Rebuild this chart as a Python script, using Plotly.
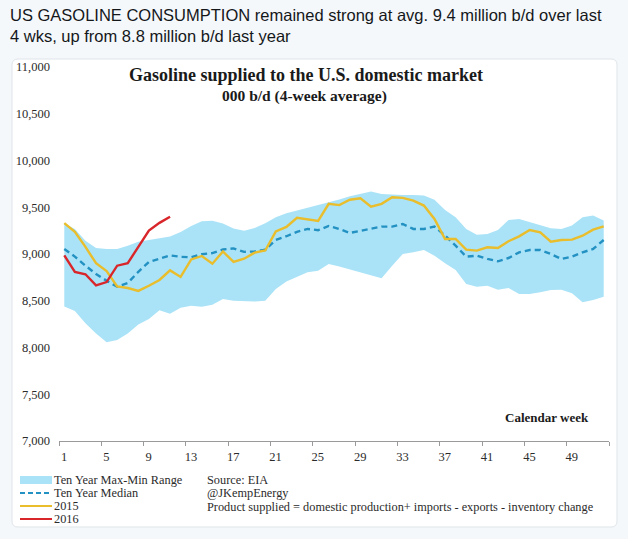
import plotly.graph_objects as go

# ---------------- data ----------------
weeks = list(range(1, 53))

range_max = [9330, 9268, 9143, 9064, 9054, 9054, 9089, 9130, 9150, 9168, 9188, 9235,
             9300, 9350, 9355, 9325, 9272, 9250, 9279, 9329, 9393, 9436, 9464, 9500,
             9525, 9554, 9582, 9618, 9643, 9668, 9643, 9636, 9632, 9632, 9625, 9579,
             9471, 9393, 9268, 9207, 9214, 9257, 9364, 9375, 9339, 9304, 9275, 9268,
             9304, 9393, 9411, 9357]

range_min = [8438, 8390, 8260, 8150, 8055, 8080, 8150, 8245, 8305, 8398, 8360, 8425,
             8447, 8436, 8457, 8518, 8500, 8493, 8493, 8500, 8625, 8707, 8757, 8804,
             8822, 8893, 8865, 8832, 8804, 8768, 8740, 8875, 9000, 9018, 9043, 8982,
             8900, 8829, 8679, 8650, 8661, 8618, 8636, 8572, 8572, 8590, 8615, 8618,
             8579, 8483, 8508, 8543]

median = [9054, 8972, 8875, 8786, 8714, 8650, 8690, 8810, 8915, 8950, 8985, 8970,
          8965, 8998, 9010, 9048, 9060, 9023, 9027, 9045, 9150, 9190, 9237, 9268,
          9255, 9300, 9268, 9225, 9250, 9275, 9293, 9293, 9321, 9268, 9268, 9293,
          9197, 9089, 8972, 8982, 8947, 8922, 8957, 9018, 9043, 9043, 9000, 8947,
          8972, 9018, 9054, 9150]

y2015 = [9330, 9236, 9076, 8901, 8818, 8653, 8636, 8605, 8660, 8722, 8825, 8755,
         8942, 8979, 8896, 9027, 8915, 8950, 9014, 9037, 9241, 9290, 9388, 9370,
         9353, 9537, 9523, 9580, 9596, 9507, 9536, 9607, 9600, 9571, 9518, 9375,
         9161, 9161, 9047, 9036, 9072, 9064, 9136, 9189, 9257, 9232, 9132, 9150,
         9154, 9196, 9261, 9296]

y2016 = [8986, 8808, 8783, 8665, 8700, 8875, 8902, 9075, 9250, 9333, 9398]

x_tick_labels = ["1", "5", "9", "13", "17", "21", "25", "29", "33", "37", "41", "45", "49", ""]
y_ticks = [7000, 7500, 8000, 8500, 9000, 9500, 10000, 10500, 11000]

# ---------------- styles ----------------
BAND = "#aae3f7"
MED = "#2391c2"
YEL = "#e9bd2b"
RED = "#d9262b"
SERIF = "Liberation Serif"
SANS = "Liberation Sans"
TXT = "#2b2b2b"
PAGE = "#f5f8fa"

W, H = 628, 539
L, R, T, B = 59, 19, 67, 98
PW, PH = W - L - R, H - T - B


def px(x):
    return (x - L) / PW


def py(y):
    return (H - B - y) / PH


fig = go.Figure()
fig.add_trace(go.Scatter(x=weeks, y=range_min, mode="lines", line=dict(width=0, color=BAND),
                         hoverinfo="skip", showlegend=False))
fig.add_trace(go.Scatter(x=weeks, y=range_max, mode="lines", line=dict(width=0, color=BAND),
                         fill="tonexty", fillcolor=BAND, name="Ten Year Max-Min Range", showlegend=False))
fig.add_trace(go.Scatter(x=weeks, y=median, mode="lines",
                         line=dict(color=MED, width=2.4, dash="6px,4px"),
                         name="Ten Year Median", showlegend=False))
fig.add_trace(go.Scatter(x=weeks, y=y2015, mode="lines", line=dict(color=YEL, width=2.4),
                         name="2015", showlegend=False))
fig.add_trace(go.Scatter(x=weeks[:len(y2016)], y=y2016, mode="lines", line=dict(color=RED, width=2.4),
                         name="2016", showlegend=False))

# card background with rounded corners
cx0, cx1, cy0, cy1, rr = 12, 617, 59, 527, 6
path = (f"M {px(cx0+rr)},{py(cy0)} L {px(cx1-rr)},{py(cy0)} "
        f"Q {px(cx1)},{py(cy0)} {px(cx1)},{py(cy0+rr)} L {px(cx1)},{py(cy1-rr)} "
        f"Q {px(cx1)},{py(cy1)} {px(cx1-rr)},{py(cy1)} L {px(cx0+rr)},{py(cy1)} "
        f"Q {px(cx0)},{py(cy1)} {px(cx0)},{py(cy1-rr)} L {px(cx0)},{py(cy0+rr)} "
        f"Q {px(cx0)},{py(cy0)} {px(cx0+rr)},{py(cy0)} Z")
shapes = [dict(type="path", path=path, xref="paper", yref="paper", layer="below",
               fillcolor="white", line=dict(color="#dfe5ea", width=1))]

# custom legend swatches
shapes.append(dict(type="rect", xref="paper", yref="paper", x0=px(20), x1=px(52), y0=py(476), y1=py(484),
                   fillcolor=BAND, line=dict(width=0)))
shapes.append(dict(type="line", xref="paper", yref="paper", x0=px(20), x1=px(52), y0=py(493), y1=py(493),
                   line=dict(color=MED, width=2, dash="5px,3px")))
shapes.append(dict(type="line", xref="paper", yref="paper", x0=px(20), x1=px(52), y0=py(506), y1=py(506),
                   line=dict(color=YEL, width=2)))
shapes.append(dict(type="line", xref="paper", yref="paper", x0=px(20), x1=px(52), y0=py(519), y1=py(519),
                   line=dict(color=RED, width=2)))

ann = []


def text(s, x, y, size, font=SERIF, color=TXT, xanchor="left"):
    ann.append(dict(text=s, x=px(x), y=py(y), xref="paper", yref="paper", showarrow=False,
                    xanchor=xanchor, yanchor="middle", borderpad=0,
                    font=dict(family=font, size=size, color=color)))


text("US GASOLINE CONSUMPTION remained strong at avg. 9.4 million b/d over last", 9, 15, 16.5, SANS, "#14171a")
text("4 wks, up from 8.8 million b/d last year", 9, 36, 16.5, SANS, "#14171a")
text("<b>Gasoline supplied to the U.S. domestic market</b>", 306, 75, 18, xanchor="center", color="#1a1a1a")
text("<b>000 b/d (4-week average)</b>", 304, 96, 15.5, xanchor="center", color="#1a1a1a")
text("<b>Calendar week</b>", 547, 417, 13, xanchor="center", color="#1a1a1a")
for lbl, yy in [("Ten Year Max-Min Range", 480), ("Ten Year Median", 493), ("2015", 506), ("2016", 519)]:
    text(lbl, 53, yy, 12.3)
text("Source: EIA", 206, 480, 12.3)
text("@JKempEnergy", 206, 493, 12.3)
text("Product supplied = domestic production+ imports - exports - inventory change", 206, 507, 12.3)

fig.update_layout(
    width=W, height=H,
    margin=dict(l=L, r=R, t=T, b=B, pad=0),
    paper_bgcolor=PAGE, plot_bgcolor="rgba(0,0,0,0)",
    showlegend=False,
    shapes=shapes, annotations=ann,
    xaxis=dict(range=[0.5, 52.5], tickmode="array",
               tickvals=[0.5 + 4 * i for i in range(len(x_tick_labels))], ticktext=x_tick_labels,
               ticklabelshift=5, ticks="outside", ticklen=4, tickcolor="#9a9a9a",
               showline=True, linecolor="#9a9a9a", linewidth=1, showgrid=False, zeroline=False,
               tickfont=dict(family=SERIF, size=12.5, color=TXT)),
    yaxis=dict(range=[7000, 11000], tickmode="array", tickvals=y_ticks, tickformat=",",
               showline=False, showgrid=False, zeroline=False, ticks="",
               ticklabelstandoff=8, tickfont=dict(family=SERIF, size=12.5, color=TXT)),
)

fig.write_html("out.html", config={"displayModeBar": False},
               post_script=f"document.body.style.margin='0';document.body.style.background='{PAGE}';")
